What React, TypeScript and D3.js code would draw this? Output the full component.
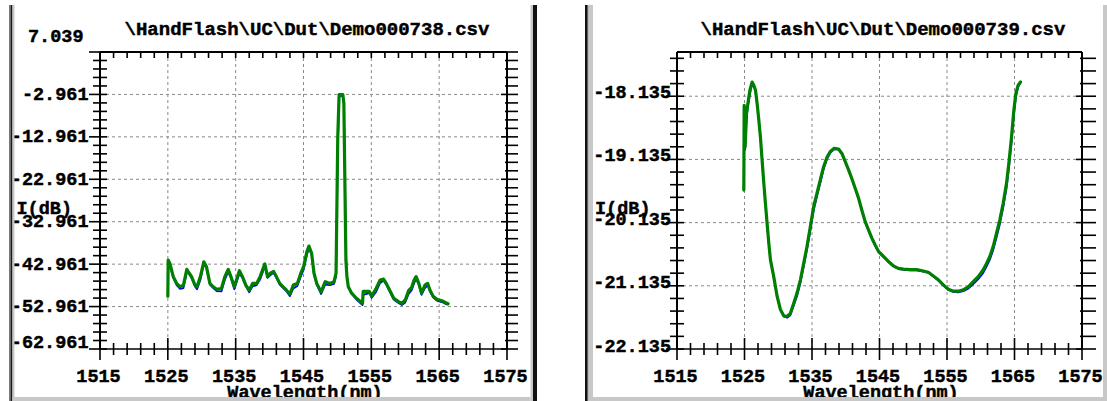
import React from 'react';
import * as d3 from 'd3';

// ---------- data ----------
const WL_DOMAIN: [number, number] = [1515, 1575];
const WL_TICKS = [1515, 1525, 1535, 1545, 1555, 1565, 1575];

const LEFT_TITLE = '\\HandFlash\\UC\\Dut\\Demo000738.csv';
const RIGHT_TITLE = '\\HandFlash\\UC\\Dut\\Demo000739.csv';
const X_TITLE = 'Wavelength(nm)';
const Y_TITLE = 'I(dB)';

const LEFT_Y_DOMAIN: [number, number] = [-62.961, 7.039];
const LEFT_Y_TICKS = [7.039, -2.961, -12.961, -22.961, -32.961, -42.961, -52.961, -62.961];
const LEFT_Y_LABELS = ['7.039', '-2.961', '-12.961', '-22.961', '-32.961', '-42.961', '-52.961', '-62.961'];

const RIGHT_Y_DOMAIN: [number, number] = [-22.135, -17.435];
const RIGHT_Y_TICKS = [-18.135, -19.135, -20.135, -21.135, -22.135];
const RIGHT_Y_LABELS = ['-18.135', '-19.135', '-20.135', '-21.135', '-22.135'];

// [wavelength nm, green trace dB, blue trace dB]
const LEFT_POINTS: [number, number, number][] = [
  [1525.0, -50.5, -50.5], [1525.05, -42.0, -42.4], [1525.3, -42.8, -43.2], [1525.8, -45.9, -46.2],
  [1526.3, -47.5, -47.9], [1526.8, -48.3, -48.8], [1527.3, -47.9, -48.6], [1527.8, -44.2, -44.9],
  [1528.0, -44.7, -45.0], [1528.5, -45.9, -46.2], [1529.0, -47.9, -48.2], [1529.3, -48.3, -48.9],
  [1529.8, -45.9, -46.7], [1530.3, -42.4, -43.0], [1530.7, -43.6, -43.9], [1531.2, -47.5, -47.8],
  [1531.7, -48.3, -48.6], [1532.2, -48.9, -49.3], [1532.9, -48.7, -49.4], [1533.4, -45.9, -46.7],
  [1533.9, -44.2, -44.8], [1534.3, -45.9, -46.2], [1534.8, -48.3, -48.9], [1535.55, -44.5, -45.2],
  [1536.0, -45.9, -46.2], [1536.5, -47.9, -48.2], [1537.0, -49.1, -49.6], [1537.5, -47.5, -48.2],
  [1538.1, -47.5, -47.9], [1538.6, -45.9, -46.6], [1539.3, -42.9, -43.5], [1539.7, -45.9, -46.2],
  [1540.1, -45.1, -45.6], [1540.6, -44.7, -45.0], [1541.0, -45.9, -46.2], [1541.5, -47.5, -47.8],
  [1542.0, -48.3, -48.6], [1542.5, -49.1, -49.4], [1543.0, -50.0, -50.5], [1543.5, -47.9, -48.7],
  [1544.1, -47.5, -48.1], [1544.6, -45.1, -45.9], [1545.0, -43.6, -44.4], [1545.5, -40.0, -40.8],
  [1545.8, -38.7, -39.2], [1546.2, -40.4, -40.7], [1546.55, -45.1, -45.4], [1546.95, -47.5, -47.8],
  [1547.6, -49.5, -50.0], [1548.2, -47.1, -47.8], [1548.9, -47.5, -47.9], [1549.5, -47.1, -47.6],
  [1549.8, -45.1, -45.9], [1550.05, -13.0, -16.0], [1550.25, -3.0, -3.5], [1550.8, -3.0, -3.2],
  [1550.95, -5.0, -5.0], [1551.25, -42.0, -40.0], [1551.4, -45.9, -45.5], [1551.6, -48.3, -48.3],
  [1552.1, -49.8, -50.0], [1552.8, -51.0, -51.3], [1553.7, -52.2, -52.6], [1553.8, -49.4, -50.2],
  [1554.7, -49.4, -49.8], [1555.05, -50.5, -50.9], [1555.7, -48.7, -49.5], [1556.3, -46.7, -47.4],
  [1556.8, -46.5, -46.8], [1557.2, -47.5, -47.8], [1557.8, -49.4, -49.7], [1558.3, -51.0, -51.3],
  [1559.0, -51.8, -52.1], [1559.5, -52.2, -52.6], [1560.0, -51.4, -52.0], [1560.5, -49.2, -50.0],
  [1560.95, -48.4, -49.1], [1561.3, -46.7, -47.5], [1561.6, -45.9, -46.5], [1562.0, -47.5, -47.8],
  [1562.4, -49.8, -50.2], [1562.9, -47.9, -48.6], [1563.3, -47.5, -47.9], [1563.65, -49.1, -49.4],
  [1564.1, -50.5, -50.8], [1564.7, -51.3, -51.6], [1565.4, -51.6, -51.9], [1565.9, -52.0, -52.3],
  [1566.3, -52.3, -52.5],
];

const RIGHT_POINTS: [number, number, number][] = [
  [1524.9, -19.62, -19.62], [1524.95, -18.28, -18.3], [1525.1, -18.93, -18.98], [1525.3, -18.4, -18.5],
  [1525.5, -18.25, -18.3], [1525.8, -18.04, -18.1], [1526.13, -17.91, -17.93], [1526.38, -17.96, -17.97],
  [1526.63, -18.04, -18.05], [1526.87, -18.25, -18.26], [1527.12, -18.51, -18.52], [1527.36, -18.78, -18.79],
  [1527.61, -19.15, -19.16], [1527.86, -19.51, -19.52], [1528.1, -19.83, -19.84], [1528.35, -20.15, -20.16],
  [1528.6, -20.46, -20.47], [1528.84, -20.72, -20.73], [1529.33, -20.99, -21.0], [1529.83, -21.3, -21.31],
  [1530.32, -21.51, -21.52], [1530.81, -21.61, -21.62], [1531.31, -21.62, -21.64], [1531.8, -21.57, -21.6],
  [1532.29, -21.41, -21.45], [1532.78, -21.25, -21.3], [1533.28, -21.04, -21.09], [1533.77, -20.78, -20.83],
  [1534.26, -20.51, -20.56], [1534.75, -20.2, -20.26], [1535.25, -19.88, -19.94], [1535.74, -19.67, -19.72],
  [1536.23, -19.46, -19.51], [1536.72, -19.25, -19.29], [1537.22, -19.1, -19.13], [1537.71, -19.01, -19.03],
  [1538.3, -18.96, -18.97], [1538.94, -18.97, -18.98], [1539.43, -19.04, -19.05], [1539.93, -19.17, -19.18],
  [1540.42, -19.3, -19.31], [1540.91, -19.44, -19.45], [1541.4, -19.59, -19.6], [1541.9, -19.75, -19.76],
  [1542.39, -19.94, -19.95], [1542.88, -20.12, -20.13], [1543.37, -20.25, -20.26], [1543.87, -20.38, -20.39],
  [1544.36, -20.49, -20.5], [1544.85, -20.59, -20.6], [1545.59, -20.67, -20.68], [1546.33, -20.75, -20.76],
  [1547.07, -20.82, -20.83], [1547.81, -20.86, -20.87], [1548.55, -20.87, -20.88], [1549.53, -20.88, -20.89],
  [1550.52, -20.88, -20.89], [1551.5, -20.9, -20.91], [1552.24, -20.92, -20.93], [1552.98, -20.98, -20.99],
  [1553.72, -21.04, -21.05], [1554.46, -21.12, -21.13], [1555.2, -21.19, -21.2], [1555.94, -21.22, -21.23],
  [1556.67, -21.22, -21.24], [1557.41, -21.2, -21.22], [1558.15, -21.15, -21.18], [1558.89, -21.07, -21.11],
  [1559.63, -20.99, -21.03], [1560.37, -20.88, -20.93], [1560.86, -20.78, -20.83], [1561.35, -20.67, -20.72],
  [1561.85, -20.51, -20.57], [1562.34, -20.3, -20.37], [1562.83, -20.09, -20.16], [1563.32, -19.83, -19.9],
  [1563.82, -19.51, -19.59], [1564.16, -19.2, -19.28], [1564.56, -18.78, -18.86], [1564.9, -18.36, -18.44],
  [1565.2, -18.09, -18.15], [1565.54, -17.96, -17.99], [1565.89, -17.91, -17.92],
];

// ---------- layout / style ----------
const W = 1107;
const H = 401;
const FONT = "'Liberation Mono', 'DejaVu Sans Mono', monospace";
const FS = 18.5;
const GREEN = '#008000';
const BLUE = '#0000ff';
const GRID = '#8a8a8a';
const PANEL_GRAY = '#c8c8c8';

type Cfg = {
  x0: number; x1: number; y0: number; y1: number;
  yDomain: [number, number]; yTicks: number[]; yLabels: string[]; yMinorStep: number;
  yLabelX: number; topLabelX: number; labelDy: number; topLabelDy: number; bottomLabelDy: number;
  rightOut: number; title: string; innerLeft: number;
  points: [number, number, number][];
};

const LEFT_CFG: Cfg = {
  x0: 100, x1: 507, y0: 52, y1: 349,
  yDomain: LEFT_Y_DOMAIN, yTicks: LEFT_Y_TICKS, yLabels: LEFT_Y_LABELS, yMinorStep: 2,
  yLabelX: 88.5, topLabelX: 83.5, labelDy: 5.5, topLabelDy: -10, bottomLabelDy: -1,
  rightOut: 11, title: LEFT_TITLE, innerLeft: 14.5, points: LEFT_POINTS,
};
const RIGHT_CFG: Cfg = {
  x0: 677, x1: 1082, y0: 52, y1: 349,
  yDomain: RIGHT_Y_DOMAIN, yTicks: RIGHT_Y_TICKS, yLabels: RIGHT_Y_LABELS, yMinorStep: 0.2,
  yLabelX: 671, topLabelX: 671, labelDy: 2, topLabelDy: 2, bottomLabelDy: 2.5,
  rightOut: 14, title: RIGHT_TITLE, innerLeft: 593, points: RIGHT_POINTS,
};

function Chart({ cfg }: { cfg: Cfg }) {
  const x = d3.scaleLinear().domain(WL_DOMAIN).range([cfg.x0, cfg.x1]);
  const y = d3.scaleLinear().domain(cfg.yDomain).range([cfg.y1, cfg.y0]);
  const [lo, hi] = cfg.yDomain;
  const eps = 1e-6;
  const nY = Math.floor((hi - lo) / cfg.yMinorStep + eps);
  const yMinor = d3.range(0, nY + 1).map((k) => lo + k * cfg.yMinorStep);
  const xMinor = d3.range(0, 31).map((k) => WL_DOMAIN[0] + k * 2);
  const isMajorX = (v: number) => Math.abs(((v - 1515) % 10)) < eps;
  const isMajorY = (v: number) => cfg.yTicks.some((t) => Math.abs(t - v) < eps);

  const green = d3.line<[number, number, number]>().x((d) => x(d[0])).y((d) => y(d[1]));
  const blue = d3.line<[number, number, number]>().x((d) => x(d[0])).y((d) => y(d[2]));

  const cx = (cfg.x0 + cfg.x1) / 2;
  const textStyle = {
    fontFamily: FONT, fontWeight: 700, fontSize: FS, fill: '#000',
    stroke: '#000', strokeWidth: 0.45,
  } as const;

  return (
    <g>
      {/* grid */}
      {WL_TICKS.filter((v) => v > WL_DOMAIN[0] && v < WL_DOMAIN[1]).map((v) => (
        <line key={'gx' + v} x1={x(v)} x2={x(v)} y1={cfg.y0} y2={cfg.y1}
          stroke={GRID} strokeWidth={1} strokeDasharray="3,3" />
      ))}
      {cfg.yTicks.filter((v) => v > lo + eps && v < hi - eps).map((v) => (
        <line key={'gy' + v} x1={cfg.x0} x2={cfg.x1} y1={y(v)} y2={y(v)}
          stroke={GRID} strokeWidth={1} strokeDasharray="3,3" />
      ))}

      {/* traces */}
      <path d={blue(cfg.points) || ''} fill="none" stroke={BLUE} strokeWidth={1.8} strokeLinejoin="round" />
      <path d={green(cfg.points) || ''} fill="none" stroke={GREEN} strokeWidth={3.2} strokeLinejoin="round" strokeLinecap="round" />

      {/* axes frame */}
      <g stroke="#000" strokeWidth={1.6}>
        <line x1={cfg.x0} x2={cfg.x1} y1={cfg.y0} y2={cfg.y0} strokeWidth={2} />
        <line x1={cfg.x0} x2={cfg.x1} y1={cfg.y1} y2={cfg.y1} />
        <line x1={cfg.x0} x2={cfg.x0} y1={cfg.y0} y2={cfg.y1} strokeWidth={2} />
        <line x1={cfg.x1} x2={cfg.x1} y1={cfg.y0} y2={cfg.y1} strokeWidth={2} />
        {yMinor.map((v) => {
          const yy = y(v);
          const maj = isMajorY(v);
          return (
            <g key={'yt' + v}>
              <line x1={cfg.x0 - (maj ? 11 : 7)} x2={cfg.x0 + 7} y1={yy} y2={yy} />
              <line x1={cfg.x1 - (maj ? 6 : 2)} x2={cfg.x1 + cfg.rightOut} y1={yy} y2={yy} />
            </g>
          );
        })}
        {xMinor.map((v) => {
          const xx = x(v);
          const maj = isMajorX(v);
          return (
            <g key={'xt' + v}>
              <line x1={xx} x2={xx} y1={cfg.y1 - (maj ? 11 : 6)} y2={cfg.y1 + (maj ? 11 : 6)} />
              <line x1={xx} x2={xx} y1={cfg.y0} y2={cfg.y0 + 6} />
            </g>
          );
        })}
      </g>

      {/* y labels */}
      {cfg.yTicks.map((v, i) => {
        const yy = y(v);
        const isTop = Math.abs(v - hi) < eps;
        const dy = isTop ? cfg.topLabelDy : Math.abs(v - lo) < eps ? cfg.bottomLabelDy : cfg.labelDy;
        return (
          <text key={'yl' + v} x={isTop ? cfg.topLabelX : cfg.yLabelX} y={yy + dy} textAnchor="end" style={textStyle}>
            {cfg.yLabels[i]}
          </text>
        );
      })}
      {/* x labels */}
      {WL_TICKS.map((v) => (
        <text key={'xl' + v} x={x(v) - 1.5} y={382} textAnchor="middle" style={textStyle}>
          {String(v)}
        </text>
      ))}
      {/* titles */}
      <text x={cx + 3.5} y={35} textAnchor="middle" style={{ ...textStyle, fontSize: 19 }}>{cfg.title}</text>
      <text x={cx + 1.5} y={398} textAnchor="middle" style={textStyle}>{X_TITLE}</text>
      <text x={cfg.innerLeft + 2} y={214} textAnchor="start" style={textStyle}>{Y_TITLE}</text>
    </g>
  );
}

export default function App() {
  return (
    <svg width={W} height={H} viewBox={`0 0 ${W} ${H}`}
      style={{ position: 'absolute', left: 0, top: 0, background: '#fff' }}>
      <rect x={0} y={0} width={W} height={H} fill="#fff" />
      <Chart cfg={LEFT_CFG} />
      <Chart cfg={RIGHT_CFG} />
      {/* left panel frame */}
      <rect x={9} y={5} width={1.5} height={396} fill="#7a7a7a" />
      <rect x={10.5} y={5} width={2} height={396} fill="#1a1a1a" />
      <rect x={12.5} y={5} width={2} height={396} fill={PANEL_GRAY} />
      <rect x={530.5} y={5} width={2.5} height={396} fill={PANEL_GRAY} />
      <rect x={533} y={5} width={4} height={396} fill="#111" />
      <rect x={12.5} y={397} width={518} height={4} fill={PANEL_GRAY} />
      {/* right panel frame */}
      <rect x={585} y={5} width={2} height={396} fill="#111" />
      <rect x={587} y={5} width={1.5} height={396} fill="#606060" />
      <rect x={588.5} y={5} width={4.5} height={396} fill={PANEL_GRAY} />
      <rect x={1103} y={5} width={4} height={396} fill={PANEL_GRAY} />
      <rect x={588.5} y={397} width={515} height={4} fill={PANEL_GRAY} />
    </svg>
  );
}
